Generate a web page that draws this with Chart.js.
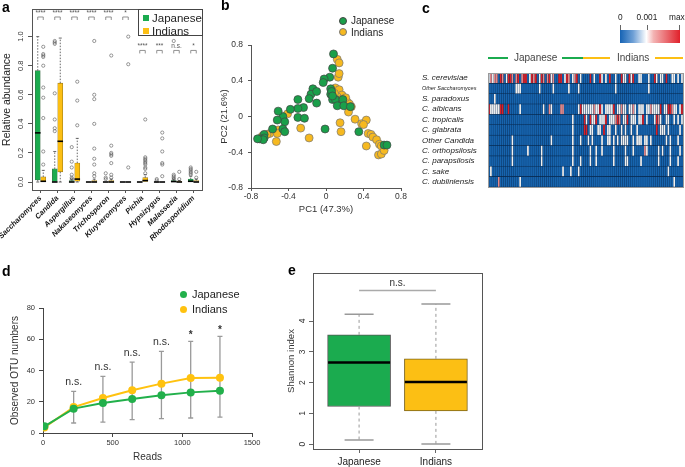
<!DOCTYPE html>
<html>
<head>
<meta charset="utf-8">
<script src="https://cdn.jsdelivr.net/npm/chart.js@4.4.0/dist/chart.umd.min.js"></script>
<style>
  body { margin: 0; background: #fff; font-family: "Liberation Sans", Arial, sans-serif; }
  #fig { position: relative; width: 685px; height: 467px; overflow: hidden; background: #fff; }
  canvas, .t, .ln { position: absolute; }
  .t { white-space: nowrap; color: #222; line-height: 1; }
  .lab { font-weight: bold; font-size: 14px; color: #000; }
  .ln { height: 2px; }
  .dot { position: absolute; border-radius: 50%; box-sizing: border-box; }
  .sq { position: absolute; width: 6px; height: 6px; }
</style>
</head>
<body>
<div id="fig">
  <canvas id="ca" width="215" height="250" style="left:0;top:0"></canvas>
  <canvas id="cb" width="200" height="215" style="left:220px;top:0"></canvas>
  <canvas id="cc" width="265" height="135" style="left:420px;top:60px"></canvas>
  <canvas id="cd" width="280" height="212" style="left:0;top:255px"></canvas>
  <canvas id="ce" width="210" height="212" style="left:280px;top:255px"></canvas>

  <div class="t lab" style="left:2px;top:0px">a</div>
  <div class="t lab" style="left:221px;top:-2px">b</div>
  <div class="t lab" style="left:422px;top:1px">c</div>
  <div class="t lab" style="left:2px;top:264px">d</div>
  <div class="t lab" style="left:288px;top:263px">e</div>

  <!-- legend a -->
  <div style="position:absolute;left:138px;top:9px;width:63px;height:25px;border:1px solid #444;background:#fff"></div>
  <div class="sq" style="left:143px;top:15px;background:#1bab4f"></div>
  <div class="t" style="left:152px;top:12.5px;font-size:11.5px">Japanese</div>
  <div class="sq" style="left:143px;top:28px;background:#fcbf14"></div>
  <div class="t" style="left:152px;top:25.5px;font-size:11.5px">Indians</div>

  <!-- legend b -->
  <div class="dot" style="left:339px;top:17px;width:8px;height:8px;background:#1a9f4a;border:0.7px solid #444"></div>
  <div class="t" style="left:351px;top:16px;font-size:10px">Japanese</div>
  <div class="dot" style="left:339px;top:28px;width:8px;height:8px;background:#f6b920;border:0.7px solid #777"></div>
  <div class="t" style="left:351px;top:27.5px;font-size:10px">Indians</div>

  <!-- colour key c -->
  <div class="t" style="left:618px;top:13px;font-size:8.3px">0</div>
  <div class="t" style="left:636.5px;top:13px;font-size:8.3px">0.001</div>
  <div class="t" style="left:669px;top:13px;font-size:8.3px">max</div>
  <div style="position:absolute;left:620px;top:25px;width:1px;height:5px;background:#666"></div>
  <div style="position:absolute;left:647px;top:25px;width:1px;height:5px;background:#666"></div>
  <div style="position:absolute;left:679px;top:25px;width:1px;height:5px;background:#666"></div>
  <div style="position:absolute;left:620px;top:30px;width:60px;height:13px;background:linear-gradient(to right,#1663b4 0%,#6fa0d6 22%,#ffffff 44%,#f3b3b3 56%,#e0202a 100%)"></div>

  <!-- group header c -->
  <div class="ln" style="left:488px;top:57px;width:20px;background:#1bab4f"></div>
  <div class="t" style="left:514px;top:53px;font-size:10px;color:#444">Japanese</div>
  <div class="ln" style="left:562px;top:57px;width:21px;background:#1bab4f"></div>
  <div class="ln" style="left:583px;top:57px;width:27px;background:#fcbf14"></div>
  <div class="t" style="left:617px;top:53px;font-size:10px;color:#444">Indians</div>
  <div class="ln" style="left:655px;top:57px;width:28px;background:#fcbf14"></div>

  <!-- legend d -->
  <div class="dot" style="left:179.5px;top:290.5px;width:7px;height:7px;background:#22b04b"></div>
  <div class="t" style="left:192px;top:288.5px;font-size:11px">Japanese</div>
  <div class="dot" style="left:179.5px;top:305.5px;width:7px;height:7px;background:#ffc20f"></div>
  <div class="t" style="left:192px;top:303.5px;font-size:11px">Indians</div>
</div>

<script>
// ---------- colours
const GREEN = '#1bab4f';
const YELLOW = '#fcbf14';

// ---------- panel a : relative abundance per genus
const genera = ['Saccharomyces', 'Candida', 'Aspergillus', 'Nakaseomyces', 'Trichosporon',
  'Kluyveromyces', 'Pichia', 'Hypsizygus', 'Malassezia', 'Rhodosporidium'];
// [min, q1, median, q3, max]
const jpBox = [[0, 0.014, 0.338, 0.766, 1.0], [0, 0, 0, 0.09, 0.21], [0, 0, 0, 0.01, 0.02], [0, 0, 0, 0, 0],
  [0, 0, 0, 0, 0], [0, 0, 0, 0, 0], [0, 0, 0, 0, 0], [0, 0, 0, 0, 0], [0, 0, 0.003, 0.01, 0.02], [0, 0, 0.005, 0.02, 0.04]];
const inBox = [[0, 0, 0.005, 0.035, 0.08], [0, 0.07, 0.28, 0.68, 0.99], [0, 0.005, 0.02, 0.13, 0.3], [0, 0, 0, 0.01, 0.02],
  [0, 0, 0, 0.01, 0.02], [0, 0, 0, 0, 0], [0, 0, 0.01, 0.03, 0.05], [0, 0, 0, 0, 0], [0, 0, 0, 0.005, 0.01], [0, 0, 0, 0.01, 0.02]];
const jpOut = [[], [0.97, 0.96, 0.95, 0.61, 0.43, 0.37, 0.35], [0.24, 0.14, 0.1, 0.05, 0.03, 0.02], [],
  [0.06, 0.03, 0.02], [], [], [0.02, 0.01], [0.97, 0.05, 0.04, 0.03, 0.02], [0.1, 0.09, 0.08, 0.07, 0.06, 0.05]];
const inOut = [[0.93, 0.88, 0.87, 0.86, 0.8, 0.65, 0.58, 0.44, 0.21, 0.12], [], [0.69, 0.56, 0.39],
  [0.97, 0.6, 0.57, 0.4, 0.23, 0.16, 0.12, 0.06, 0.04], [0.87, 0.25, 0.2, 0.19, 0.18, 0.13, 0.05, 0.03],
  [1.0, 0.81, 0.1], [0.43, 0.17, 0.16, 0.15, 0.14, 0.13, 0.12, 0.1, 0.09, 0.06],
  [0.34, 0.3, 0.21, 0.13, 0.12, 0.04], [0.07, 0.02], [0.07, 0.03]];
const sigA = ['****', '****', '****', '****', '****', '*', '****', '***', 'n.s.', '*'];
const sigAY = [1.135, 1.135, 1.135, 1.135, 1.135, 1.135, 0.905, 0.905, 0.905, 0.905];
const yTicksA = [0, 0.2, 0.4, 0.6, 0.8, 1.0];

// ---------- panel b : PCA
const jpPC = [[0.08, 0.70], [0.07, 0.54], [0.04, 0.44], [-0.02, 0.42], [-0.03, 0.38], [0.05, 0.31], [0.05, 0.25],
  [0.07, 0.19], [-0.14, 0.31], [-0.16, 0.25], [-0.10, 0.28], [-0.18, 0.20], [-0.10, 0.15], [-0.24, 0.10],
  [-0.30, 0.19], [-0.30, 0.09], [-0.38, 0.08], [-0.30, -0.01], [-0.23, -0.02], [-0.46, 0.00], [-0.51, 0.06],
  [-0.44, -0.06], [-0.52, -0.04], [-0.46, -0.14], [-0.44, -0.17], [-0.57, -0.14], [-0.66, -0.20], [-0.66, -0.24],
  [-0.71, -0.25], [-0.67, -0.26], [-0.73, -0.25], [-0.01, -0.14], [0.10, 0.19], [0.12, 0.12], [0.18, 0.19],
  [0.19, 0.12], [0.26, 0.11], [0.35, -0.17], [0.62, -0.32], [0.65, -0.32], [0.06, 0.28], [0.07, 0.23]];
const inPC = [[0.12, 0.64], [0.14, 0.60], [0.13, 0.44], [0.14, 0.48], [0.10, 0.32], [0.14, 0.30], [0.17, 0.24],
  [0.12, 0.22], [0.16, 0.19], [0.20, 0.19], [0.23, 0.16], [0.25, 0.14], [0.27, 0.11], [0.24, 0.05],
  [0.15, -0.07], [0.16, -0.17], [0.31, -0.03], [0.38, -0.08], [0.43, -0.04], [0.40, -0.09], [0.45, -0.19],
  [0.48, -0.20], [0.50, -0.23], [0.43, -0.33], [0.54, -0.26], [0.57, -0.31], [0.59, -0.33], [0.56, -0.43],
  [0.59, -0.42], [0.62, -0.38], [-0.41, 0.03], [-0.51, -0.15], [-0.52, -0.19], [-0.53, -0.28], [-0.60, -0.19],
  [-0.63, -0.20], [-0.27, -0.13], [-0.18, -0.24], [-0.68, -0.22], [0.21, 0.21], [0.09, 0.26]];
const pcTicks = [-0.8, -0.4, 0, 0.4, 0.8];

// ---------- panel c : heatmap (0 blue .. 2 white .. 4 red)
const species = ['S. cerevisiae', 'Other Saccharomyces', 'S. paradoxus', 'C. albicans', 'C. tropicalis',
  'C. glabrata', 'Other Candida', 'C. orthopsilosis', 'C. parapsilosis', 'C. sake', 'C. dubliniensis'];
const heatRows = [
  '2323304302 4430340344 0243402430 3423004402 4302340200 0040200420 2040020042 2042400220 0020042022 0400220202',
  '0000000000 0000222000 0000002000 0002000000 0200002000 0000000000 0000020000 0000000000 0020000000 0000000000',
  '0002000000 0000000000 0000000000 0000000000 0000000000 0000000000 0000000000 0000000000 0000000000 0000000000',
  '4222224400 4000002000 0000000020 0320000330 0000002422 2222322420 2222402232 2022320222 0223222240 2244322024',
  '0000000000 0000000000 0000000000 0000000000 0002000004 2042240222 4022234302 2402220224 0200024320 0220020202',
  '0000000000 0000000000 0000000000 0000000000 0002000004 4022002204 0220020020 2002002000 0000004022 2020000020',
  '0000000000 0020000000 0000000000 0020000000 0002000200 0202000020 0220202022 2200202220 2202000000 0202000200',
  '0000000000 0020000000 2000000200 0000000000 0002000000 0020020020 0000200000 2000200000 3200000202 0002000020',
  '0000000000 0020000000 0000000200 0000000000 0002000200 0020020000 0000200000 2200000020 0000000200 0002000200',
  '0200000000 0000000000 0000000000 0000000020 0020002000 0000000000 0000000000 0000000000 0000000000 0020000000',
  '0000030000 0000002000 0000000000 0000000000 0000000000 0000000000 0000000000 0000000000 0000000000 0000020000'
];
const heatColors = ['#1764ae', '#6d9fd3', '#f1f1f1', '#e98b8b', '#dd1f26'];

// ---------- panel d : rarefaction
const readsX = [10, 220, 430, 640, 850, 1060, 1270];
const jpOTU = [4.3, 15.6, 19.2, 21.8, 24.1, 26.0, 27.1];
const inOTU = [3.6, 16.6, 22.4, 27.3, 31.6, 35.2, 35.4];
const errLo = [null, 6.4, 7.0, 8.5, 9.2, 9.6, 10.2];
const errHi = [null, 26.7, 36.3, 45.4, 52.3, 58.7, 61.9];
const otuSig = ['', 'n.s.', 'n.s.', 'n.s.', 'n.s.', '*', '*'];

// ---------- panel e : Shannon index
const groupsE = ['Japanese', 'Indians'];
const shannonBox = [[0.13, 1.22, 2.65, 3.55, 4.22], [0, 1.08, 2.02, 2.77, 4.55]];
const shannonTicks = [0, 1, 2, 3, 4];

Chart.defaults.font.family = '"Liberation Sans", Arial, sans-serif';
Chart.defaults.color = '#333';
Chart.defaults.animation = false;
Chart.defaults.responsive = false;
Chart.defaults.devicePixelRatio = 1;
Chart.defaults.plugins.legend.display = false;
Chart.defaults.plugins.tooltip.enabled = false;

const frame = (color, w) => ({
  id: 'frame',
  afterDraw(chart) {
    const a = chart.chartArea, ctx = chart.ctx;
    ctx.save();
    ctx.strokeStyle = color; ctx.lineWidth = w;
    ctx.strokeRect(Math.round(a.left) + 0.5, Math.round(a.top) + 0.5, Math.round(a.right - a.left), Math.round(a.bottom - a.top));
    ctx.restore();
  }
});

const fmtPC = v => (v === 0 ? '0' : String(Math.round(v * 10) / 10));

// whiskers + medians drawn with the chart's own scales
function drawWhiskers(chart, xs, stats, o) {
  const ctx = chart.ctx, sx = chart.scales.x, sy = chart.scales.y;
  ctx.save();
  stats.forEach((s, i) => {
    const x = sx.getPixelForValue(xs[i]);
    const p = s.map(v => sy.getPixelForValue(v));
    ctx.strokeStyle = o.color; ctx.lineWidth = o.lw; ctx.setLineDash(o.dash);
    ctx.beginPath();
    if (s[4] > s[3]) { ctx.moveTo(x, p[3]); ctx.lineTo(x, p[4]); }
    if (s[1] > s[0]) { ctx.moveTo(x, p[1]); ctx.lineTo(x, p[0]); }
    ctx.stroke();
    ctx.setLineDash([]);
    ctx.strokeStyle = o.capColor; ctx.lineWidth = o.capLw;
    ctx.beginPath();
    if (s[4] > s[3]) { ctx.moveTo(x - o.cap, p[4]); ctx.lineTo(x + o.cap, p[4]); }
    if (s[1] > s[0]) { ctx.moveTo(x - o.cap, p[0]); ctx.lineTo(x + o.cap, p[0]); }
    ctx.stroke();
    ctx.strokeStyle = '#000'; ctx.lineWidth = o.medLw;
    ctx.beginPath(); ctx.moveTo(x - o.med, p[2]); ctx.lineTo(x + o.med, p[2]); ctx.stroke();
  });
  ctx.restore();
}

//---------------------------panel a
const OFF = 0.162;
const outPts = [];
jpOut.forEach((arr, i) => arr.forEach(v => outPts.push({ x: i - OFF, y: v })));
inOut.forEach((arr, i) => arr.forEach(v => outPts.push({ x: i + OFF, y: v })));

new Chart(document.getElementById('ca'), {
  type: 'bar',
  data: {
    datasets: [
      { label: 'Japanese', data: jpBox.map((s, i) => ({ x: i - OFF, y: [s[1], s[3]] })), backgroundColor: GREEN,
        borderColor: '#3b6f47', borderWidth: 0.6, borderSkipped: false, barThickness: 5, grouped: false },
      { label: 'Indians', data: inBox.map((s, i) => ({ x: i + OFF, y: [s[1], s[3]] })), backgroundColor: YELLOW,
        borderColor: '#96761a', borderWidth: 0.6, borderSkipped: false, barThickness: 5, grouped: false },
      { type: 'scatter', data: outPts, pointRadius: 1.6, backgroundColor: 'rgba(0,0,0,0)', borderColor: '#555', borderWidth: 0.6 }
    ]
  },
  options: {
    layout: { padding: { left: 0, top: 9, right: 13, bottom: 0 } },
    scales: {
      x: {
        type: 'linear', min: -0.5, max: 9.5, offset: false,
        afterBuildTicks: s => { s.ticks = genera.map((g, i) => ({ value: i })); },
        afterFit: s => { s.height = 60; s.paddingLeft = 0; s.paddingRight = 0; },
        ticks: { callback: v => genera[v], minRotation: 45, maxRotation: 45, autoSkip: false, padding: 1, color: '#111',
          font: { size: 7.5, style: 'italic', weight: 'bold' } },
        grid: { drawOnChartArea: false, offset: false, tickLength: 3, color: '#555' },
        border: { display: false }
      },
      y: {
        min: -0.055, max: 1.19,
        afterBuildTicks: s => { s.ticks = yTicksA.map(v => ({ value: v })); },
        afterFit: s => { s.width = 32; },
        ticks: { callback: v => v.toFixed(1), minRotation: 90, maxRotation: 90, crossAlign: 'center', padding: 2, font: { size: 7.5 } },
        grid: { drawOnChartArea: false, tickLength: 4, color: '#555' },
        border: { display: false },
        title: { display: true, text: 'Relative abundance', font: { size: 10.5 }, padding: { top: 1, bottom: 0 }, color: '#222' }
      }
    }
  },
  plugins: [frame('#555', 1), {
    id: 'boxA',
    afterDatasetsDraw(chart) {
      drawWhiskers(chart, genera.map((g, i) => i - OFF), jpBox, { color: '#444', lw: 0.8, dash: [1.5, 1.5], capColor: '#444', capLw: 0.8, cap: 1.5, med: 2.8, medLw: 1.6 });
      drawWhiskers(chart, genera.map((g, i) => i + OFF), inBox, { color: '#444', lw: 0.8, dash: [1.5, 1.5], capColor: '#444', capLw: 0.8, cap: 1.5, med: 2.8, medLw: 1.6 });
      const ctx = chart.ctx, sx = chart.scales.x, sy = chart.scales.y;
      ctx.save();
      ctx.strokeStyle = '#777'; ctx.fillStyle = '#555'; ctx.lineWidth = 0.8;
      ctx.font = '6.5px "Liberation Sans", Arial';
      ctx.textAlign = 'center'; ctx.textBaseline = 'bottom';
      sigA.forEach((t, i) => {
        const x1 = sx.getPixelForValue(i - OFF), x2 = sx.getPixelForValue(i + OFF), y = sy.getPixelForValue(sigAY[i]);
        ctx.beginPath();
        ctx.moveTo(x1, y + 3); ctx.lineTo(x1, y); ctx.lineTo(x2, y); ctx.lineTo(x2, y + 3);
        ctx.stroke();
        ctx.fillText(t, (x1 + x2) / 2, y - 1);
      });
      ctx.restore();
    }
  }]
});

//---------------------------panel b
new Chart(document.getElementById('cb'), {
  type: 'scatter',
  data: {
    datasets: [
      { label: 'Japanese', data: jpPC.map(p => ({ x: p[0], y: p[1] })), backgroundColor: '#1a9f4a', borderColor: '#444', borderWidth: 0.7, pointRadius: 4 },
      { label: 'Indians', data: inPC.map(p => ({ x: p[0], y: p[1] })), backgroundColor: '#f6b920', borderColor: '#777', borderWidth: 0.7, pointRadius: 4 }
    ]
  },
  options: {
    layout: { padding: { left: 0, top: 45, right: 19, bottom: 0 } },
    scales: {
      x: {
        min: -0.8, max: 0.8,
        afterBuildTicks: s => { s.ticks = pcTicks.map(v => ({ value: v })); },
        afterFit: s => { s.height = 27; s.paddingLeft = 0; s.paddingRight = 0; },
        ticks: { callback: fmtPC, padding: 1, font: { size: 8.5 }, color: '#333' },
        grid: { drawOnChartArea: false, tickLength: 3, color: '#555' },
        border: { color: '#555' },
        title: { display: true, text: 'PC1 (47.3%)', font: { size: 9.5 }, padding: { top: 0, bottom: 0 }, color: '#333' }
      },
      y: {
        min: -0.8, max: 0.8,
        afterBuildTicks: s => { s.ticks = pcTicks.map(v => ({ value: v })); },
        afterFit: s => { s.width = 31; },
        ticks: { callback: fmtPC, padding: 5, font: { size: 8.5 }, color: '#333' },
        grid: { drawOnChartArea: false, tickLength: 3, color: '#555' },
        border: { color: '#555' },
        title: { display: true, text: 'PC2 (21.6%)', font: { size: 9.5 }, padding: { top: -1, bottom: 0 }, color: '#333' }
      }
    }
  }
});

//---------------------------panel c
const nCols = heatRows[0].replace(/ /g, '').length;
const cells = heatRows.map(r => r.replace(/ /g, '').split('').map(Number));
const heatSets = [];
for (let c = 0; c < nCols; c++) {
  heatSets.push({
    data: species.map(() => 1),
    backgroundColor: cells.map(r => heatColors[r[c]]),
    borderColor: 'rgba(8,25,50,0.5)',
    borderWidth: { top: 0.6, bottom: 0.6, left: 0, right: 0.5 },
    borderSkipped: false,
    barPercentage: 1, categoryPercentage: 1
  });
}
new Chart(document.getElementById('cc'), {
  type: 'bar',
  data: { labels: species, datasets: heatSets },
  options: {
    indexAxis: 'y',
    layout: { padding: { left: 2, top: 13, right: 2, bottom: 8 } },
    scales: {
      x: { stacked: true, min: 0, max: nCols, display: false },
      y: {
        stacked: true,
        afterFit: s => { s.width = 66; },
        ticks: { crossAlign: 'far', padding: 0, color: '#222', autoSkip: false,
          font: c => c.index === 1 ? { size: 5.5, style: 'italic' } : { size: 8, style: 'italic' } },
        grid: { display: false },
        border: { display: false }
      }
    }
  },
  plugins: [{
    id: 'heatBg',
    beforeDatasetsDraw(chart) {
      const a = chart.chartArea, ctx = chart.ctx;
      ctx.save(); ctx.fillStyle = '#0f4a88';
      ctx.fillRect(a.left, a.top, a.right - a.left, a.bottom - a.top);
      ctx.restore();
    }
  }, frame('#9a9a9a', 1)]
});

//---------------------------panel d
new Chart(document.getElementById('cd'), {
  type: 'line',
  data: {
    datasets: [
      { label: 'Japanese', data: readsX.map((x, i) => ({ x, y: jpOTU[i] })), borderColor: '#22b04b', backgroundColor: '#22b04b', borderWidth: 2, pointRadius: 4, pointBorderWidth: 0 },
      { label: 'Indians', data: readsX.map((x, i) => ({ x, y: inOTU[i] })), borderColor: '#ffc20f', backgroundColor: '#ffc20f', borderWidth: 2, pointRadius: 4, pointBorderWidth: 0 }
    ]
  },
  options: {
    layout: { padding: { left: 0, top: 53, right: 28, bottom: 0 } },
    scales: {
      x: {
        type: 'linear', min: 0, max: 1500,
        afterBuildTicks: s => { s.ticks = [0, 500, 1000, 1500].map(v => ({ value: v })); },
        afterFit: s => { s.height = 34; s.paddingLeft = 0; s.paddingRight = 0; },
        ticks: { callback: v => String(v), padding: 1, font: { size: 7.5 }, color: '#333' },
        grid: { drawOnChartArea: false, tickLength: 4, color: '#444' },
        border: { color: '#444' },
        title: { display: true, text: 'Reads', font: { size: 10 }, padding: { top: 0, bottom: 4 }, color: '#333' }
      },
      y: {
        min: 0, max: 80,
        afterBuildTicks: s => { s.ticks = [0, 20, 40, 60, 80].map(v => ({ value: v })); },
        afterFit: s => { s.width = 43; },
        ticks: { padding: 4, font: { size: 7.5 }, color: '#333' },
        grid: { drawOnChartArea: false, tickLength: 4, color: '#444' },
        border: { color: '#444' },
        title: { display: true, text: 'Observed OTU numbers', font: { size: 10 }, padding: { top: 9, bottom: 0 }, color: '#333' }
      }
    }
  },
  plugins: [{
    id: 'errbars',
    beforeDatasetsDraw(chart) {
      const ctx = chart.ctx, sx = chart.scales.x, sy = chart.scales.y;
      ctx.save();
      ctx.strokeStyle = '#9a9a9a'; ctx.lineWidth = 1.3;
      readsX.forEach((xv, i) => {
        if (errLo[i] == null) return;
        const x = sx.getPixelForValue(xv), y1 = sy.getPixelForValue(errLo[i]), y2 = sy.getPixelForValue(errHi[i]);
        ctx.beginPath();
        ctx.moveTo(x, y1); ctx.lineTo(x, y2);
        ctx.moveTo(x - 2.5, y1); ctx.lineTo(x + 2.5, y1);
        ctx.moveTo(x - 2.5, y2); ctx.lineTo(x + 2.5, y2);
        ctx.stroke();
      });
      ctx.fillStyle = '#333'; ctx.textAlign = 'center'; ctx.textBaseline = 'bottom';
      readsX.forEach((xv, i) => {
        if (!otuSig[i]) return;
        const x = sx.getPixelForValue(xv), y = sy.getPixelForValue(errHi[i]);
        if (otuSig[i] === '*') { ctx.font = 'bold 10px "Liberation Sans", Arial'; ctx.fillText('*', x, y - 1); }
        else { ctx.font = '10.5px "Liberation Sans", Arial'; ctx.fillText(otuSig[i], x, y - 4); }
      });
      ctx.restore();
    }
  }]
});

//---------------------------panel e
new Chart(document.getElementById('ce'), {
  type: 'bar',
  data: {
    datasets: [{
      data: shannonBox.map((s, i) => ({ x: i + 1, y: [s[1], s[3]] })),
      backgroundColor: [GREEN, YELLOW],
      borderColor: ['#555', '#7d6418'],
      borderWidth: 1, borderSkipped: false, barThickness: 63, grouped: false
    }]
  },
  options: {
    layout: { padding: { left: 0, top: 18, right: 8, bottom: 0 } },
    scales: {
      x: {
        type: 'linear', min: 0.4, max: 2.6, offset: false,
        afterBuildTicks: s => { s.ticks = groupsE.map((g, i) => ({ value: i + 1 })); },
        afterFit: s => { s.height = 18; s.paddingLeft = 0; s.paddingRight = 0; },
        ticks: { callback: v => groupsE[v - 1], padding: 3, font: { size: 10 }, color: '#222' },
        grid: { drawOnChartArea: false, offset: false, tickLength: 4, color: '#666' },
        border: { display: false }
      },
      y: {
        min: -0.16, max: 5.56,
        afterBuildTicks: s => { s.ticks = shannonTicks.map(v => ({ value: v })); },
        afterFit: s => { s.width = 33; },
        ticks: { minRotation: 90, maxRotation: 90, crossAlign: 'center', padding: 3.5, font: { size: 8.5 }, color: '#333' },
        grid: { drawOnChartArea: false, tickLength: 4, color: '#666' },
        border: { display: false },
        title: { display: true, text: 'Shannon index', font: { size: 9.6 }, padding: { top: 6, bottom: 0 }, color: '#333' }
      }
    }
  },
  plugins: [frame('#555', 1), {
    id: 'boxE',
    afterDatasetsDraw(chart) {
      drawWhiskers(chart, [1, 2], shannonBox, { color: '#999', lw: 1, dash: [3, 3], capColor: '#999', capLw: 1.5, cap: 14.5, med: 31, medLw: 2.5 });
      const ctx = chart.ctx, sx = chart.scales.x, sy = chart.scales.y;
      const x1 = sx.getPixelForValue(1), x2 = sx.getPixelForValue(2), y = sy.getPixelForValue(4.99);
      ctx.save();
      ctx.strokeStyle = '#aaa'; ctx.lineWidth = 1.5;
      ctx.beginPath(); ctx.moveTo(x1, y); ctx.lineTo(x2, y); ctx.stroke();
      ctx.fillStyle = '#333'; ctx.font = '10px "Liberation Sans", Arial';
      ctx.textAlign = 'center'; ctx.textBaseline = 'bottom';
      ctx.fillText('n.s.', (x1 + x2) / 2, y - 2);
      ctx.restore();
    }
  }]
});
</script>
</body>
</html>
